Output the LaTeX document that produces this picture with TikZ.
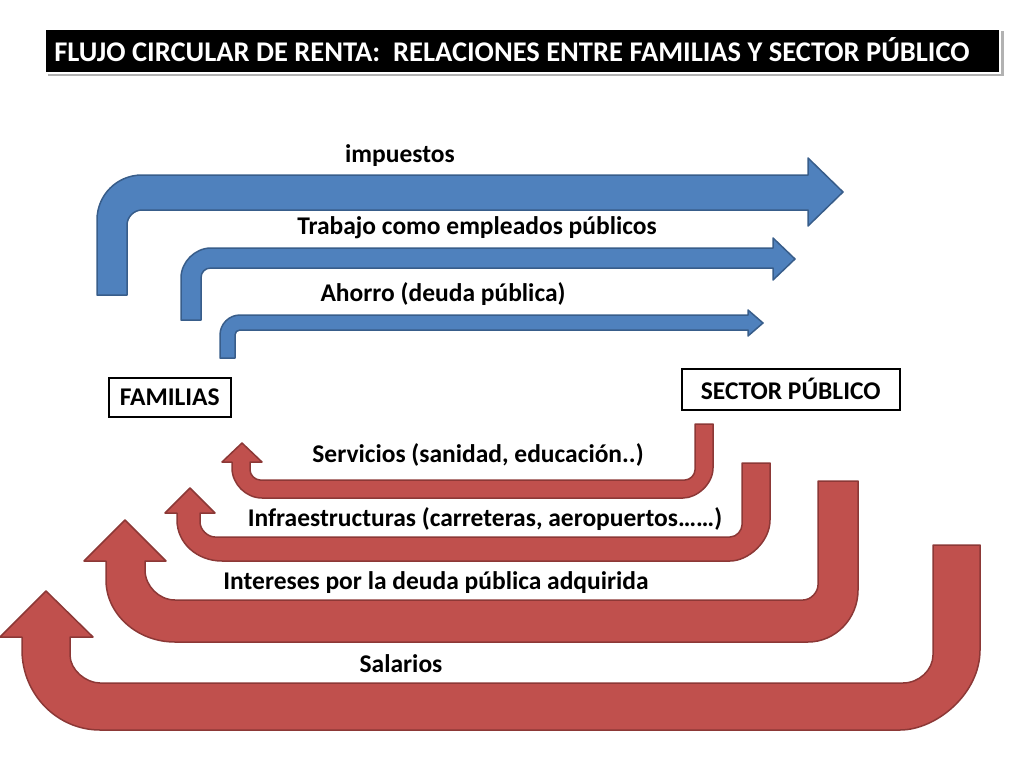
\documentclass[tikz,border=0pt]{standalone}
\usepackage{fontspec}
\setmainfont{Carlito}
\begin{document}
\begin{tikzpicture}[x=1pt,y=-1pt,
  blue/.style={fill={rgb,255:red,79;green,129;blue,189},draw={rgb,255:red,56;green,93;blue,138},line width=1.5pt,line join=round},
  redar/.style={fill={rgb,255:red,192;green,80;blue,77},draw={rgb,255:red,140;green,56;blue,54},line width=1.5pt,line join=round},
  lbl/.style={font=\bfseries\fontsize{25.5}{28}\selectfont},
  box/.style={draw,line width=1.5pt,font=\bfseries\fontsize{25.5}{28}\selectfont,inner sep=0pt,anchor=north west}]
\useasboundingbox (0,0) rectangle (1024,768);
% title
\fill[gray!60] (48,31) rectangle (1004,76);
\node[draw=white,line width=2pt,fill=black,minimum width=955pt,minimum height=44pt,anchor=north west,inner sep=0pt] (title) at (44,28) {};
\node[text=white,font=\bfseries\fontsize{28.5}{30}\selectfont] (tt) at (512,50) {FLUJO CIRCULAR DE RENTA:\ \ RELACIONES ENTRE FAMILIAS Y SECTOR PÚBLICO};
% blue arrows
\path[blue] (97,295) -- (97,220) .. controls (97,195) and (117,175) .. (142,175) -- (808,175) -- (808,158) -- (843,192) -- (808,226) -- (808,210) -- (142,210) .. controls (134,210) and (127,217) .. (127,225) -- (127,295) -- cycle;
\path[blue] (181,320) -- (181,278) .. controls (181,262) and (195,248) .. (211,248) -- (773,248) -- (773,238) -- (795,259) -- (773,280) -- (773,268) -- (211,268) .. controls (205,268) and (201,272) .. (201,278) -- (201,320) -- cycle;
\path[blue] (220,358) -- (220,335) .. controls (220,324) and (229,315) .. (240,315) -- (748,315) -- (748,310) -- (763,323) -- (748,336) -- (748,330) -- (240,330) .. controls (237,330) and (235,332) .. (235,335) -- (235,358) -- cycle;
% red arrows
\path[redar] (713,424) -- (713,468) .. controls (713,484) and (697,498) .. (683,498) -- (262,498) .. controls (246,498) and (232,484) .. (232,468) -- (232,462) -- (222,462) -- (242,443) -- (262,462) -- (250,462) -- (250,470) .. controls (250,475) and (255,480) .. (260,480) -- (685,480) .. controls (690,480) and (695,475) .. (695,470) -- (695,424) -- cycle;
\path[redar] (770,463) -- (770,520) .. controls (770,542) and (748,561) .. (730,561) -- (222,561) .. controls (197,561) and (177,543) .. (177,520) -- (177,513) -- (165,513) -- (190,488) -- (215,513) -- (200,513) -- (200,522) .. controls (200,530) and (208,537) .. (215,537) -- (730,537) .. controls (737,537) and (742,530) .. (742,525) -- (742,463) -- cycle;
\path[redar] (858,481) -- (858,590) .. controls (858,619) and (835,642) .. (808,642) -- (175,642) .. controls (137,642) and (106,614) .. (106,580) -- (106,561) -- (84,561) -- (125,520) -- (166,561) -- (145,561) -- (145,570) .. controls (145,586) and (159,600) .. (175,600) -- (803,600) .. controls (811,600) and (818,592) .. (818,585) -- (818,481) -- cycle;
\path[redar] (980,545) -- (980,650) .. controls (980,694) and (936,730) .. (900,730) -- (100,730) .. controls (57,730) and (22,694) .. (22,650) -- (22,637) -- (0,637) -- (46,591) -- (93,637) -- (70,637) -- (70,655) .. controls (70,670) and (86,683) .. (100,683) -- (903,683) .. controls (919,683) and (933,670) .. (933,655) -- (933,545) -- cycle;
% labels
\node[lbl] (l1) at (400,156) {impuestos};
\node[lbl] (l2) at (477,228) {Trabajo como empleados públicos};
\node[lbl] (l3) at (443,294) {Ahorro (deuda pública)};
\node[lbl] (l4) at (478,455) {Servicios (sanidad, educación..)};
\node[lbl] (l5) at (485,519) {Infraestructuras (carreteras, aeropuertos……)};
\node[lbl] (l6) at (436,583) {Intereses por la deuda pública adquirida};
\node[lbl] (l7) at (401,664) {Salarios};
\node[box,minimum width=122pt,minimum height=39pt] (fam) at (108,377) {FAMILIAS};
\node[box,minimum width=218pt,minimum height=41pt] (sp) at (681,368) {SECTOR PÚBLICO};
\end{tikzpicture}
\end{document}
